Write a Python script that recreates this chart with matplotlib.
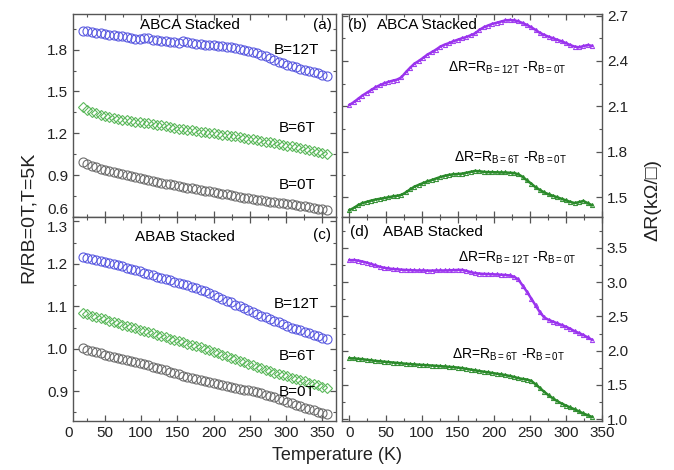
import numpy as np
import matplotlib
matplotlib.use("Agg")
import matplotlib.pyplot as plt
from matplotlib.ticker import MultipleLocator, AutoMinorLocator

plt.rcParams['font.family'] = ['Liberation Sans', 'DejaVu Sans']
plt.rcParams['mathtext.default'] = 'regular'

# ---------------- data ----------------
T_left = list(range(20, 357, 6))   # 57 points

abca_12T = [1.935, 1.930, 1.925, 1.921, 1.916, 1.912, 1.907, 1.903, 1.898, 1.894,
            1.889, 1.884, 1.878, 1.874, 1.885, 1.880, 1.872, 1.866, 1.862, 1.858,
            1.855, 1.852, 1.848, 1.860, 1.856, 1.848, 1.842, 1.838, 1.835, 1.832,
            1.830, 1.828, 1.825, 1.822, 1.818, 1.812, 1.806, 1.800, 1.793, 1.786,
            1.776, 1.764, 1.751, 1.738, 1.724, 1.712, 1.701, 1.691, 1.681, 1.672,
            1.664, 1.656, 1.648, 1.640, 1.630, 1.620, 1.612]
abca_6T = [1.390, 1.370, 1.355, 1.343, 1.333, 1.324, 1.316, 1.309, 1.303, 1.298,
           1.293, 1.288, 1.284, 1.280, 1.276, 1.271, 1.266, 1.261, 1.256, 1.250,
           1.244, 1.238, 1.232, 1.228, 1.224, 1.220, 1.216, 1.212, 1.208, 1.204,
           1.200, 1.196, 1.191, 1.187, 1.182, 1.177, 1.172, 1.167, 1.162, 1.157,
           1.152, 1.147, 1.141, 1.135, 1.130, 1.124, 1.118, 1.112, 1.106, 1.100,
           1.094, 1.087, 1.080, 1.072, 1.065, 1.058, 1.050]
abca_0T = [0.995, 0.980, 0.967, 0.956, 0.946, 0.936, 0.928, 0.920, 0.912, 0.905,
           0.899, 0.893, 0.888, 0.882, 0.875, 0.868, 0.861, 0.853, 0.846, 0.839,
           0.833, 0.827, 0.822, 0.816, 0.810, 0.805, 0.799, 0.794, 0.789, 0.784,
           0.779, 0.773, 0.767, 0.762, 0.756, 0.750, 0.745, 0.739, 0.734, 0.729,
           0.724, 0.719, 0.714, 0.710, 0.706, 0.702, 0.698, 0.694, 0.690, 0.686,
           0.682, 0.676, 0.670, 0.664, 0.659, 0.654, 0.649]

abab_12T = [1.215, 1.213, 1.211, 1.209, 1.207, 1.204, 1.202, 1.199, 1.196, 1.194,
            1.191, 1.188, 1.185, 1.182, 1.179, 1.176, 1.173, 1.170, 1.167, 1.164,
            1.161, 1.158, 1.155, 1.152, 1.149, 1.146, 1.143, 1.139, 1.135, 1.131,
            1.127, 1.122, 1.118, 1.113, 1.109, 1.104, 1.100, 1.095, 1.091, 1.086,
            1.082, 1.078, 1.074, 1.070, 1.066, 1.062, 1.058, 1.054, 1.050, 1.046,
            1.043, 1.039, 1.036, 1.033, 1.029, 1.026, 1.023]
abab_6T = [1.084, 1.081, 1.078, 1.075, 1.072, 1.069, 1.066, 1.063, 1.060, 1.057,
           1.054, 1.051, 1.048, 1.045, 1.042, 1.039, 1.036, 1.033, 1.030, 1.027,
           1.024, 1.021, 1.018, 1.015, 1.012, 1.009, 1.006, 1.003, 0.999, 0.996,
           0.992, 0.989, 0.985, 0.982, 0.978, 0.975, 0.971, 0.968, 0.964, 0.961,
           0.957, 0.954, 0.951, 0.948, 0.944, 0.941, 0.938, 0.935, 0.932, 0.929,
           0.926, 0.923, 0.920, 0.917, 0.914, 0.911, 0.908]
abab_0T = [1.001, 0.998, 0.995, 0.992, 0.989, 0.986, 0.984, 0.981, 0.979, 0.976,
           0.974, 0.972, 0.969, 0.967, 0.964, 0.961, 0.958, 0.955, 0.952, 0.949,
           0.946, 0.943, 0.940, 0.937, 0.934, 0.932, 0.929, 0.927, 0.924, 0.922,
           0.919, 0.917, 0.915, 0.912, 0.910, 0.908, 0.906, 0.904, 0.902, 0.900,
           0.898, 0.895, 0.892, 0.889, 0.886, 0.882, 0.879, 0.875, 0.872, 0.868,
           0.865, 0.861, 0.858, 0.855, 0.852, 0.849, 0.846]

T_right = list(range(0, 337, 6))   # 57 points

abca_dR12 = [2.110, 2.128, 2.150, 2.172, 2.190, 2.208, 2.226, 2.240, 2.252, 2.262,
             2.270, 2.277, 2.292, 2.325, 2.355, 2.382, 2.400, 2.420, 2.442, 2.458,
             2.475, 2.495, 2.508, 2.518, 2.530, 2.540, 2.550, 2.558, 2.570, 2.582,
             2.605, 2.622, 2.634, 2.645, 2.652, 2.660, 2.668, 2.670, 2.668, 2.662,
             2.650, 2.638, 2.622, 2.605, 2.585, 2.572, 2.560, 2.550, 2.540, 2.530,
             2.518, 2.505, 2.495, 2.490, 2.498, 2.505, 2.500]
abca_dR6 = [1.415, 1.430, 1.448, 1.462, 1.470, 1.478, 1.485, 1.490, 1.495, 1.500,
            1.506, 1.510, 1.516, 1.532, 1.552, 1.570, 1.582, 1.594, 1.605, 1.614,
            1.624, 1.634, 1.642, 1.648, 1.652, 1.654, 1.656, 1.662, 1.668, 1.674,
            1.672, 1.668, 1.666, 1.666, 1.665, 1.664, 1.664, 1.662, 1.660, 1.652,
            1.635, 1.612, 1.590, 1.566, 1.548, 1.532, 1.520, 1.510, 1.500, 1.490,
            1.480, 1.470, 1.462, 1.468, 1.476, 1.462, 1.448]
abab_dR12 = [3.320, 3.322, 3.315, 3.300, 3.285, 3.265, 3.245, 3.225, 3.210, 3.200,
             3.192, 3.188, 3.182, 3.178, 3.175, 3.172, 3.170, 3.170, 3.168, 3.168,
             3.170, 3.170, 3.170, 3.172, 3.175, 3.178, 3.178, 3.165, 3.145, 3.132,
             3.125, 3.120, 3.118, 3.115, 3.112, 3.108, 3.104, 3.098, 3.080, 3.040,
             2.950, 2.860, 2.760, 2.660, 2.560, 2.485, 2.450, 2.425, 2.400, 2.375,
             2.350, 2.320, 2.285, 2.258, 2.230, 2.195, 2.160]
abab_dR6 = [1.890, 1.888, 1.882, 1.876, 1.868, 1.860, 1.852, 1.846, 1.840, 1.834,
            1.828, 1.822, 1.816, 1.810, 1.805, 1.800, 1.796, 1.792, 1.788, 1.784,
            1.780, 1.775, 1.770, 1.765, 1.760, 1.754, 1.746, 1.736, 1.725, 1.714,
            1.704, 1.694, 1.685, 1.675, 1.665, 1.655, 1.645, 1.632, 1.618, 1.600,
            1.588, 1.580, 1.560, 1.510, 1.455, 1.400, 1.350, 1.305, 1.265, 1.230,
            1.200, 1.172, 1.145, 1.115, 1.085, 1.060, 1.035]

x_ticks = [50, 100, 150, 200, 250, 300, 350]
x_ticks_r = [0, 50, 100, 150, 200, 250, 300, 350]

BLUE = '#5a5ae0'
GREEN_L = '#5cb85c'
GRAY = '#6e6e6e'
PURPLE = '#9a33ee'
GREEN_R = '#2a8a2a'
AXC = '#555555'
TXT = '#222222'

W, H = 674, 470
fig = plt.figure(figsize=(W / 100, H / 100), dpi=100)


def ax_at(x0, y0, x1, y1):
    return fig.add_axes([x0 / W, 1 - y1 / H, (x1 - x0) / W, (y1 - y0) / H])


def ftext(x, y, s, **kw):
    kw.setdefault('fontsize', 11)
    kw.setdefault('ha', 'center')
    kw.setdefault('va', 'center')
    return fig.text(x / W, 1 - y / H, s, **kw)


ax_a = ax_at(73, 14, 336, 217)
ax_c = ax_at(73, 217, 336, 421)
ax_b = ax_at(341.5, 14, 602, 217)
ax_d = ax_at(341.5, 217, 602, 421)

for ax in (ax_a, ax_b, ax_c, ax_d):
    for sp in ax.spines.values():
        sp.set_color(AXC)
        sp.set_linewidth(1.0)
    ax.xaxis.set_major_locator(MultipleLocator(50))
    ax.xaxis.set_minor_locator(MultipleLocator(25))
    ax.yaxis.set_minor_locator(AutoMinorLocator(2))
    ax.tick_params(which='both', direction='in', top=True, right=True,
                   color=AXC, labelsize=11, labelcolor=TXT)
    ax.tick_params(which='major', length=4, width=0.9)
    ax.tick_params(which='minor', length=2.5, width=0.8)

# left panels
for ax in (ax_a, ax_c):
    ax.set_xlim(6, 369)
    ax.tick_params(labelright=False)
ax_a.tick_params(labelbottom=False)
ax_a.set_ylim(0.6, 2.055)
ax_a.set_yticks([0.6, 0.9, 1.2, 1.5, 1.8])
ax_a.yaxis.set_minor_locator(MultipleLocator(0.15))
ax_c.set_ylim(0.83, 1.31)
ax_c.set_yticks([0.9, 1.0, 1.1, 1.2, 1.3])
ax_c.set_yticklabels(['0.9', '1.0', '1.1', '1.2', '1.3'])
ax_c.yaxis.set_minor_locator(MultipleLocator(0.05))
ax_c.set_xticks(x_ticks)

mk = dict(ls='none', mfc='none', ms=6.5, mew=0.8)
ax_a.plot(T_left, abca_12T, marker='o', mec=BLUE, **mk)
ax_a.plot(T_left, abca_6T, marker='D', mec=GREEN_L, **dict(mk, ms=5.5))
ax_a.plot(T_left, abca_0T, marker='o', mec=GRAY, **mk)
ax_c.plot(T_left, abab_12T, marker='o', mec=BLUE, **mk)
ax_c.plot(T_left, abab_6T, marker='D', mec=GREEN_L, **dict(mk, ms=5.5))
ax_c.plot(T_left, abab_0T, marker='o', mec=GRAY, **mk)

# right panels
for ax in (ax_b, ax_d):
    ax.set_xlim(-11, 350)
    ax.tick_params(labelleft=False, labelright=True)
ax_b.tick_params(labelbottom=False)
ax_b.set_ylim(1.37, 2.71)
ax_b.set_yticks([1.5, 1.8, 2.1, 2.4, 2.7])
ax_b.yaxis.set_minor_locator(MultipleLocator(0.15))
ax_d.set_ylim(0.975, 3.95)
ax_d.set_yticks([1.0, 1.5, 2.0, 2.5, 3.0, 3.5])
ax_d.yaxis.set_minor_locator(MultipleLocator(0.25))
ax_d.set_xticks(x_ticks_r)

rk = dict(lw=1.8, marker='^', ms=3, mfc='none', mew=0.7)
ax_b.plot(T_right, abca_dR12, color=PURPLE, **rk)
ax_b.plot(T_right, abca_dR6, color=GREEN_R, **rk)
ax_d.plot(T_right, abab_dR12, color=PURPLE, **rk)
ax_d.plot(T_right, abab_dR6, color=GREEN_R, **rk)

# the 0.6 / 1.3 labels meet at the shared border: nudge them apart
fig.canvas.draw()
ax_a.get_yticklabels()[0].set_va('bottom')
ax_c.get_yticklabels()[-1].set_va('top')

# "0" tick label of left panel (lies just outside the frame)
ftext(68.5, 433, '0', color=TXT)

# panel annotations
ftext(190, 25, 'ABCA Stacked')
ftext(322, 25, '(a)')
ftext(296, 50, 'B=12T')
ftext(297, 128, 'B=6T')
ftext(297, 185, 'B=0T')

ftext(185, 237, 'ABAB Stacked')
ftext(322, 235, '(c)')
ftext(296, 304, 'B=12T')
ftext(297, 356, 'B=6T')
ftext(297, 392, 'B=0T')

ftext(357, 25, '(b)')
ftext(427, 25, 'ABCA Stacked')
ftext(359, 232, '(d)')
ftext(433, 232, 'ABAB Stacked')

f12 = r'$\Delta$R=R$_{B=12T}$ -R$_{B=0T}$'
f6 = r'$\Delta$R=R$_{B=6T}$ -R$_{B=0T}$'
ftext(507, 68, f12, fontsize=10)
ftext(510, 158, f6, fontsize=10)
ftext(517, 258, f12, fontsize=10)
ftext(508, 355, f6, fontsize=10)

# axis labels
ftext(28, 217, 'R/RB=0T,T=5K', fontsize=14, rotation=90, color=TXT)
ftext(653, 200, '\u0394R(k\u03a9/\u25a1)', fontsize=14, rotation=90,
      color=TXT, family=['Liberation Sans', 'DejaVu Sans'])
ftext(337, 455, 'Temperature (K)', fontsize=13, color=TXT)

fig.savefig('out.png', dpi=100)
